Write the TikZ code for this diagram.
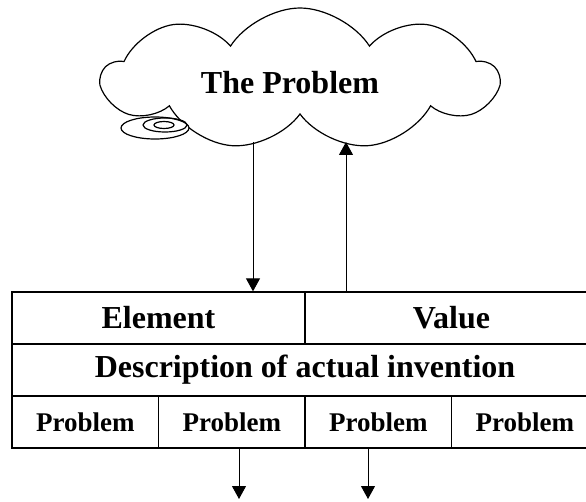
\documentclass[tikz,border=0pt]{standalone}
\usepackage{fontspec}
\setmainfont{Liberation Serif}
\usetikzlibrary{arrows.meta,shapes.symbols}
\tikzset{
  bigtext/.style={font=\bfseries\fontsize{32}{32}\selectfont},
  cell/.style={draw,line width=1.3pt,inner sep=0pt,minimum height=52pt,bigtext},
  smallcell/.style={cell,minimum width=146.5pt,font=\bfseries\fontsize{27}{27}\selectfont},
  arr/.style={-{Triangle[length=13pt,width=14pt]},line width=1pt}
}
\begin{document}
\begin{tikzpicture}[x=1pt,y=-1pt]
\useasboundingbox (0,0) rectangle (586,502);
% cloud with the thought bubble
\node[cloud,draw,line width=1.2pt,cloud puffs=9,cloud puff arc=115,minimum width=395pt,minimum height=142pt,inner sep=0pt] (cloud) at (300,79) {};
\node[bigtext] (title) at (290,83) {The Problem};
\draw[line width=1.2pt,fill=white] (155,128) ellipse [x radius=34pt,y radius=11pt];
\draw[line width=1.2pt] (165,125) ellipse [x radius=22pt,y radius=7pt];
\draw[line width=1.2pt] (164,125) ellipse [x radius=10pt,y radius=3.5pt];
% table
\node[cell,minimum width=293pt] (elem) at (158.5,318) {Element};
\node[cell,minimum width=293pt] (val) at (451.5,318) {Value};
\node[cell,minimum width=586pt] (desc) at (305,370) {Description of actual invention};
\foreach \x [count=\i] in {85.25,231.75,378.25,524.75}
  \node[smallcell] (p\i) at (\x,422) {Problem};
% arrows
\coordinate (dtop) at (253,142);
\coordinate (utop) at (346,142);
\coordinate (out1) at (239,499);
\coordinate (out2) at (368,499);
\draw[arr] (dtop) -- (dtop |- elem.north);
\draw[arr] (utop |- val.north) -- (utop);
\draw[arr] (out1 |- p2.south) -- (out1);
\draw[arr] (out2 |- p3.south) -- (out2);
\end{tikzpicture}
\end{document}
